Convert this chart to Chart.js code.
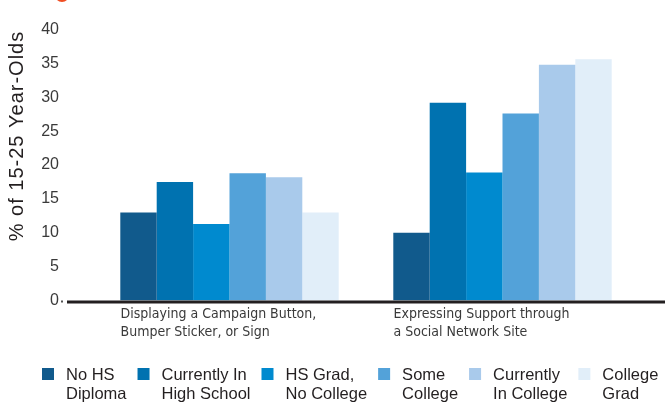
<!DOCTYPE html>
<html>
<head>
<meta charset="utf-8">
<script src="https://cdn.jsdelivr.net/npm/chart.js@4/dist/chart.umd.min.js"></script>
<style>
  html, body { margin: 0; padding: 0; background: #ffffff; }
  #wrap { position: relative; width: 665px; height: 402px; }
</style>
</head>
<body>
<div id="wrap"><canvas id="chart" width="665" height="402"></canvas></div>
<script>
// Activity categories (two-line axis labels)
const categories = [
  ["Displaying a Campaign Button,", "Bumper Sticker, or Sign"],
  ["Expressing Support through", "a Social Network Site"]
];

// Education groups (two-line legend labels)
const seriesNames = [
  ["No HS", "Diploma"],
  ["Currently In", "High School"],
  ["HS Grad,", "No College"],
  ["Some", "College"],
  ["Currently", "In College"],
  ["College", "Grad"]
];

// Percent of 15-25 year-olds, one value per activity
const noHsDiploma           = [13.0, 10.0];
const currentlyInHighSchool = [17.5, 29.2];
const hsGradNoCollege       = [11.3, 18.9];
const someCollege           = [18.8, 27.6];
const currentlyInCollege    = [18.2, 34.8];
const collegeGrad           = [13.0, 35.6];

// Value axis ticks
const yTickValues = [0, 5, 10, 15, 20, 25, 30, 35, 40];

const seriesValues = [noHsDiploma, currentlyInHighSchool, hsGradNoCollege,
                      someCollege, currentlyInCollege, collegeGrad];
const seriesColors = ["#115a8c", "#0072b0", "#008acf", "#53a2d9", "#a9caeb", "#e1eef9"];

const axisTitle = "% of 15-25 Year-Olds";
const BASE_FONT = "'Liberation Sans', Arial, Helvetica, sans-serif";
const NARROW_FONT = "'Liberation Sans Narrow', 'DejaVu Sans Condensed', 'Arial Narrow', sans-serif";

// Extra drawing: baseline rule, small mark by the zero tick, axis title, legend, header dot
const decorations = {
  id: "decorations",
  afterDatasetsDraw(chart) {
    const ctx = chart.ctx;
    const y = chart.scales.y;
    const zero = y.getPixelForValue(0);
    ctx.save();
    // baseline rule
    ctx.fillStyle = "#231f20";
    ctx.fillRect(67, zero, chart.width - 67, 3);
    // small mark after the zero label
    ctx.fillStyle = "#555555";
    ctx.fillRect(61, zero, 2, 2);
    ctx.restore();
  },
  afterDraw(chart) {
    const ctx = chart.ctx;
    ctx.save();

    // header bullet, partly above the canvas edge
    ctx.fillStyle = "#f04e23";
    ctx.beginPath();
    ctx.arc(62, -5.25, 7.25, 0, Math.PI * 2);
    ctx.fill();

    // value axis title
    ctx.save();
    ctx.translate(17, 136);
    ctx.rotate(-Math.PI / 2);
    ctx.font = "20px " + BASE_FONT;
    if ("letterSpacing" in ctx) ctx.letterSpacing = "1px";
    ctx.fillStyle = "#231f20";
    ctx.textAlign = "center";
    ctx.textBaseline = "middle";
    ctx.fillText(axisTitle, 0, 0);
    ctx.restore();

    // legend with two-line labels
    ctx.font = "16.5px " + BASE_FONT;
    ctx.textAlign = "left";
    ctx.textBaseline = "alphabetic";
    let x = 42;
    chart.data.datasets.forEach((ds) => {
      ctx.fillStyle = ds.backgroundColor;
      ctx.fillRect(x, 368, 12, 12);
      ctx.fillStyle = "#231f20";
      let w = 0;
      ds.label.forEach((line, k) => {
        ctx.fillText(line, x + 24, 380 + k * 19);
        w = Math.max(w, ctx.measureText(line).width);
      });
      x += 24 + w + 11;
    });
    ctx.restore();
  }
};

const datasets = seriesValues.map((vals, i) => ({
  label: seriesNames[i],
  data: vals,
  backgroundColor: seriesColors[i],
  borderWidth: 0,
  categoryPercentage: 0.8,
  barPercentage: 1.0
}));

new Chart(document.getElementById("chart"), {
  type: "bar",
  data: { labels: categories, datasets: datasets },
  options: {
    responsive: false,
    animation: false,
    devicePixelRatio: 1,
    layout: { padding: { left: 0, right: 26, top: 29.5, bottom: 0 } },
    plugins: {
      legend: { display: false },
      tooltip: { enabled: false },
      title: { display: false }
    },
    scales: {
      x: {
        grid: { display: false, drawTicks: false },
        border: { display: false },
        ticks: {
          align: "start",
          labelOffset: -109,
          padding: 4.5,
          color: "#3a3a3a",
          maxRotation: 0,
          autoSkip: false,
          font: { family: NARROW_FONT, size: 14, lineHeight: 1.3 }
        },
        afterFit(scale) {
          scale.height = 101.5;
          scale.paddingLeft = 0;
          scale.paddingRight = 0;
        }
      },
      y: {
        min: 0,
        max: 40,
        grid: { display: false, drawTicks: false },
        border: { display: false },
        afterBuildTicks(scale) {
          scale.ticks = yTickValues.map(v => ({ value: v }));
        },
        ticks: {
          padding: 34,
          color: "#3a3a3a",
          font: { family: BASE_FONT, size: 16 }
        },
        afterFit(scale) {
          scale.width = 93;
          scale.paddingTop = 0;
          scale.paddingBottom = 0;
        }
      }
    }
  },
  plugins: [decorations]
});
</script>
</body>
</html>
